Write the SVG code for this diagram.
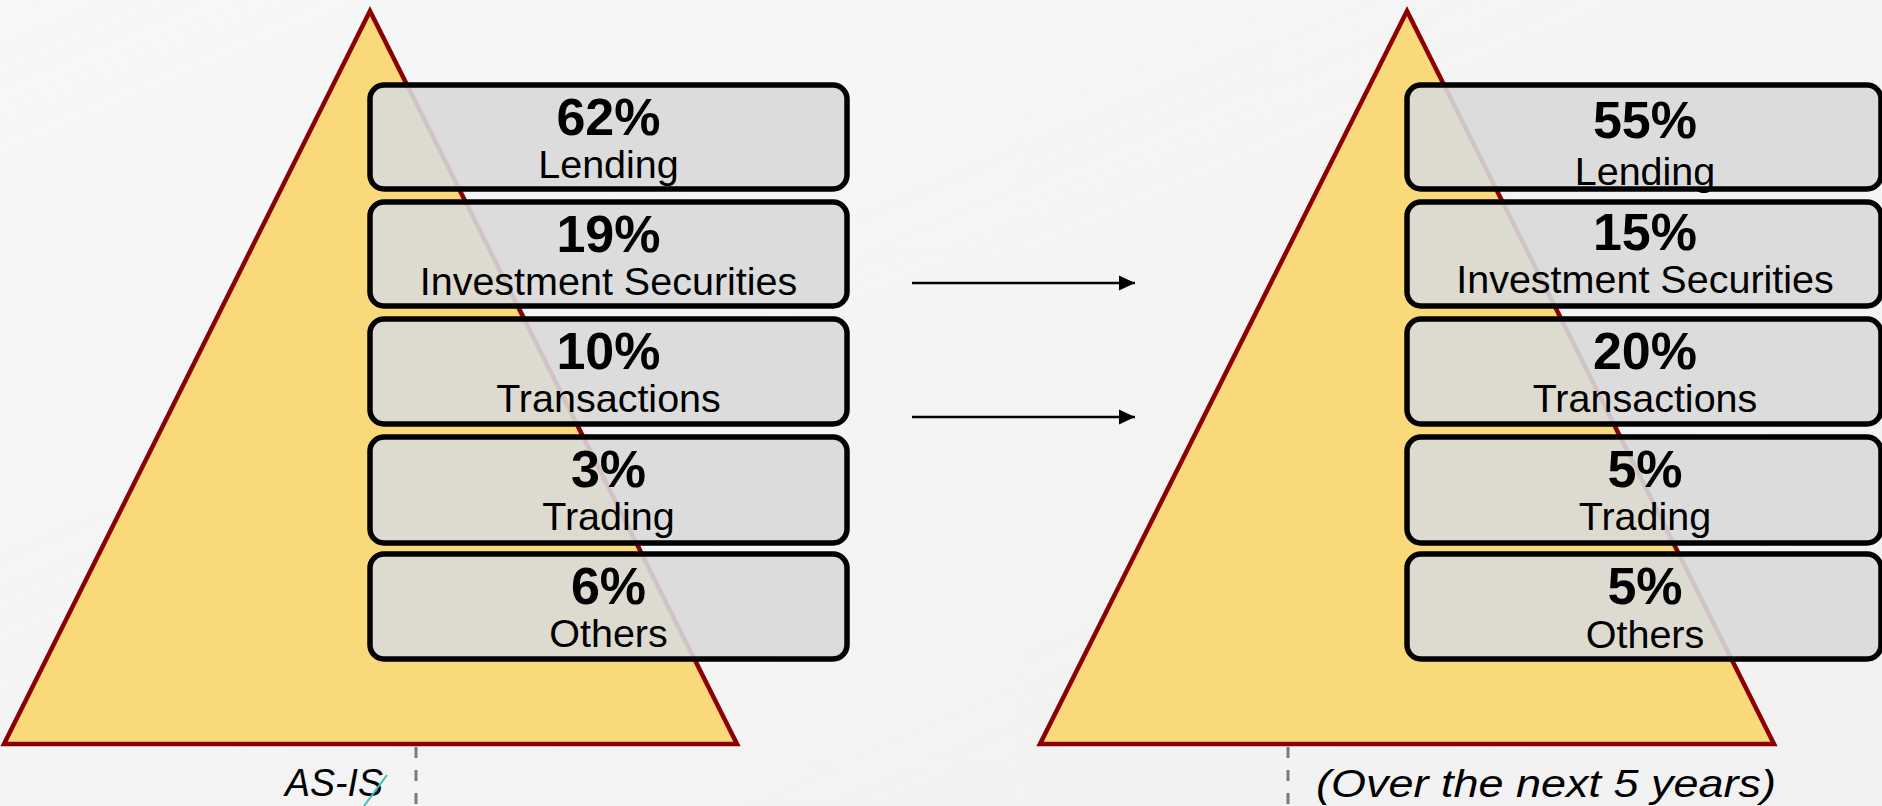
<svg xmlns="http://www.w3.org/2000/svg" width="1882" height="806" viewBox="0 0 1882 806">
  <defs>
    <linearGradient id="bg" x1="0" y1="0" x2="1" y2="1">
      <stop offset="0" stop-color="#f7f7f7"/>
      <stop offset="1" stop-color="#f1f1f1"/>
    </linearGradient>
    <marker id="arrow" markerWidth="16" markerHeight="16" refX="16" refY="8" orient="auto" markerUnits="userSpaceOnUse" viewBox="0 0 16 16">
      <path d="M0,0.5 L16,8 L0,15.5 Z" fill="#000"/>
    </marker>
    <style>
      .tri { fill: #fad97b; stroke: #8b0000; stroke-width: 4.5; stroke-linejoin: miter; }
      .box { fill: #d9d9d9; fill-opacity: 0.9; stroke: #000; stroke-width: 5.5; }
      .pct { font-family: "Liberation Sans", Arial, sans-serif; font-weight: bold; font-size: 52px; fill: #000; text-anchor: middle; }
      .lbl { font-family: "Liberation Sans", Arial, sans-serif; font-size: 39.5px; fill: #000; text-anchor: middle; }
      .cap { font-family: "Liberation Sans", Arial, sans-serif; font-style: italic; font-size: 38px; fill: #000; }
      .conn { stroke: #000; stroke-width: 2.4; fill: none; }
      .dash { stroke: #7a7a7a; stroke-width: 3; stroke-dasharray: 11 12; fill: none; }
    </style>
  </defs>
  <rect x="0" y="0" width="1882" height="806" fill="url(#bg)"/>

  <g id="pyramid-asis">
    <polygon class="tri" points="370,11 4,744 737,744"/>
  </g>
  <g id="pyramid-future">
    <polygon class="tri" points="1407,11 1040,744 1774,744"/>
  </g>

  <g id="asis-lending">
    <rect class="box" x="370" y="85" width="477" height="104" rx="14"/>
    <text class="pct" x="608.5" y="135">62%</text>
    <text class="lbl" x="608.5" y="178">Lending</text>
  </g>
  <g id="asis-investment">
    <rect class="box" x="370" y="202" width="477" height="104" rx="14"/>
    <text class="pct" x="608.5" y="252">19%</text>
    <text class="lbl" x="608.5" y="295">Investment Securities</text>
  </g>
  <g id="asis-transactions">
    <rect class="box" x="370" y="319" width="477" height="105" rx="14"/>
    <text class="pct" x="608.5" y="369">10%</text>
    <text class="lbl" x="608.5" y="412">Transactions</text>
  </g>
  <g id="asis-trading">
    <rect class="box" x="370" y="437" width="477" height="106" rx="14"/>
    <text class="pct" x="608.5" y="487">3%</text>
    <text class="lbl" x="608.5" y="530">Trading</text>
  </g>
  <g id="asis-others">
    <rect class="box" x="370" y="554" width="477" height="105" rx="14"/>
    <text class="pct" x="608.5" y="604">6%</text>
    <text class="lbl" x="608.5" y="647">Others</text>
  </g>

  <g id="future-lending">
    <rect class="box" x="1407" y="85" width="474" height="104" rx="14"/>
    <text class="pct" x="1645" y="138">55%</text>
    <text class="lbl" x="1645" y="185">Lending</text>
  </g>
  <g id="future-investment">
    <rect class="box" x="1407" y="202" width="474" height="104" rx="14"/>
    <text class="pct" x="1645" y="250">15%</text>
    <text class="lbl" x="1645" y="293">Investment Securities</text>
  </g>
  <g id="future-transactions">
    <rect class="box" x="1407" y="319" width="474" height="105" rx="14"/>
    <text class="pct" x="1645" y="369">20%</text>
    <text class="lbl" x="1645" y="412">Transactions</text>
  </g>
  <g id="future-trading">
    <rect class="box" x="1407" y="437" width="474" height="106" rx="14"/>
    <text class="pct" x="1645" y="487">5%</text>
    <text class="lbl" x="1645" y="530">Trading</text>
  </g>
  <g id="future-others">
    <rect class="box" x="1407" y="554" width="474" height="105" rx="14"/>
    <text class="pct" x="1645" y="604">5%</text>
    <text class="lbl" x="1645" y="648">Others</text>
  </g>

  <g id="connectors">
    <line class="conn" x1="912" y1="283" x2="1135" y2="283" marker-end="url(#arrow)"/>
    <line class="conn" x1="912" y1="417" x2="1135" y2="417" marker-end="url(#arrow)"/>
    <line class="dash" x1="416" y1="747" x2="416" y2="806"/>
    <line class="dash" x1="1288" y1="747" x2="1288" y2="806"/>
  </g>

  <g id="caption-asis">
    <text class="cap" x="285" y="796" textLength="98" lengthAdjust="spacingAndGlyphs">AS-IS</text>
    <line x1="364" y1="806" x2="387" y2="775" stroke="#3cc0c0" stroke-width="2"/>
  </g>
  <g id="caption-future">
    <text class="cap" x="1316" y="797" textLength="460" lengthAdjust="spacingAndGlyphs">(Over the next 5 years)</text>
  </g>
</svg>
